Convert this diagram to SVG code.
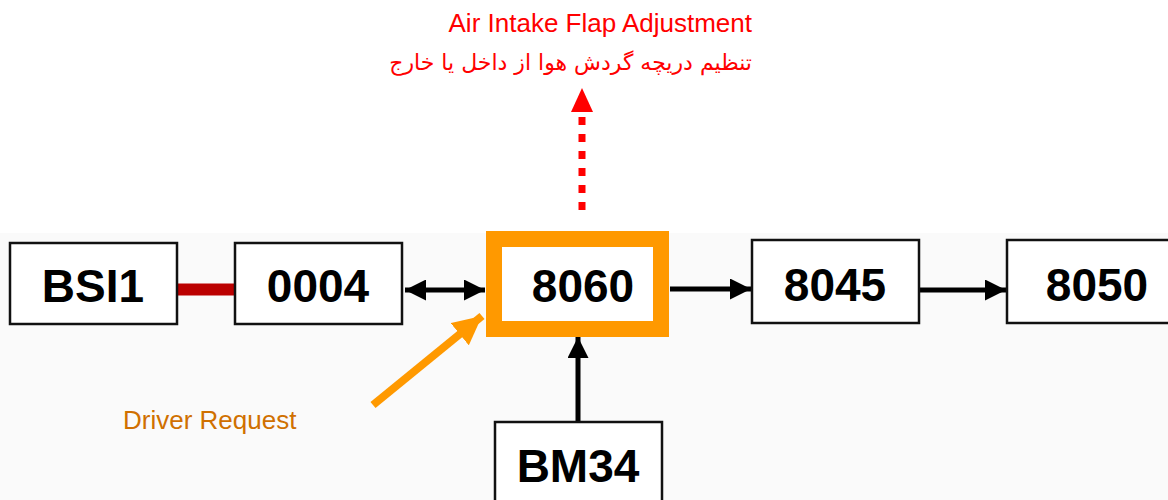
<svg xmlns="http://www.w3.org/2000/svg" width="1168" height="500" viewBox="0 0 1168 500">
<defs>
<style>
.box{fill:#ffffff;stroke:#111111;stroke-width:2.5}
.lbl{font-family:"Liberation Sans",Arial,sans-serif;font-weight:bold;font-size:46px;fill:#000000;text-anchor:middle}
.conn{stroke:#000000;stroke-width:5;fill:none}
</style>
<marker id="ah" viewBox="0 0 10 10" refX="10" refY="5" markerWidth="4.2" markerHeight="4.2" orient="auto-start-reverse" markerUnits="strokeWidth">
<path d="M0,0 L10,5 L0,10 Z" fill="#000000"/>
</marker>
<marker id="ahO" viewBox="0 0 10 10" refX="10" refY="5" markerWidth="3.6" markerHeight="3.6" orient="auto" markerUnits="strokeWidth">
<path d="M0,0 L10,5 L0,10 Z" fill="#ff9900"/>
</marker>
</defs>
<rect x="0" y="0" width="1168" height="500" fill="#ffffff"/>
<rect x="0" y="233" width="1168" height="267" fill="#fafafa"/>

<g id="connectors">
<line x1="177" y1="289.5" x2="235" y2="289.5" stroke="#bb0000" stroke-width="12"/>
<line class="conn" x1="405" y1="290" x2="485" y2="290" marker-start="url(#ah)" marker-end="url(#ah)"/>
<line class="conn" x1="670" y1="289" x2="751" y2="289" marker-end="url(#ah)"/>
<line class="conn" x1="920" y1="290" x2="1006" y2="290" marker-end="url(#ah)"/>
<line class="conn" x1="578" y1="421" x2="578" y2="337" marker-end="url(#ah)"/>
<line x1="373" y1="405" x2="482" y2="316" stroke="#ff9900" stroke-width="8" marker-end="url(#ahO)"/>
<line x1="582" y1="210" x2="582" y2="112" stroke="#ff0000" stroke-width="7" stroke-dasharray="8,9"/>
<path d="M571,112 L593,112 L582,88 Z" fill="#ff0000"/>
</g>

<g id="node-bsi1">
<rect class="box" x="10" y="243" width="167" height="81"/>
<text class="lbl" x="93" y="302">BSI1</text>
</g>
<g id="node-0004">
<rect class="box" x="235" y="243" width="167" height="81"/>
<text class="lbl" x="318" y="302">0004</text>
</g>
<g id="node-8060">
<rect x="494" y="239" width="167" height="90" fill="#ffffff" stroke="#ff9900" stroke-width="16"/>
<text class="lbl" x="583" y="302">8060</text>
</g>
<g id="node-8045">
<rect class="box" x="752" y="240" width="167" height="83"/>
<text class="lbl" x="835" y="301">8045</text>
</g>
<g id="node-8050">
<rect class="box" x="1007" y="240" width="175" height="83"/>
<text class="lbl" x="1097" y="301">8050</text>
</g>
<g id="node-bm34">
<rect class="box" x="495" y="422" width="167" height="90"/>
<text class="lbl" x="578" y="482">BM34</text>
</g>

<g id="label-air">
<text x="752" y="32" font-family="'Liberation Sans',Arial,sans-serif" font-size="26" fill="#ff0000" text-anchor="end">Air Intake Flap Adjustment</text>
<text x="752" y="70" font-family="'DejaVu Sans',sans-serif" font-size="22" fill="#ff0000" text-anchor="start" direction="rtl">تنظیم دریچه گردش هوا از داخل یا خارج</text>
</g>
<g id="label-driver">
<text x="123" y="429" font-family="'Liberation Sans',Arial,sans-serif" font-size="26" fill="#d07000">Driver Request</text>
</g>
</svg>
